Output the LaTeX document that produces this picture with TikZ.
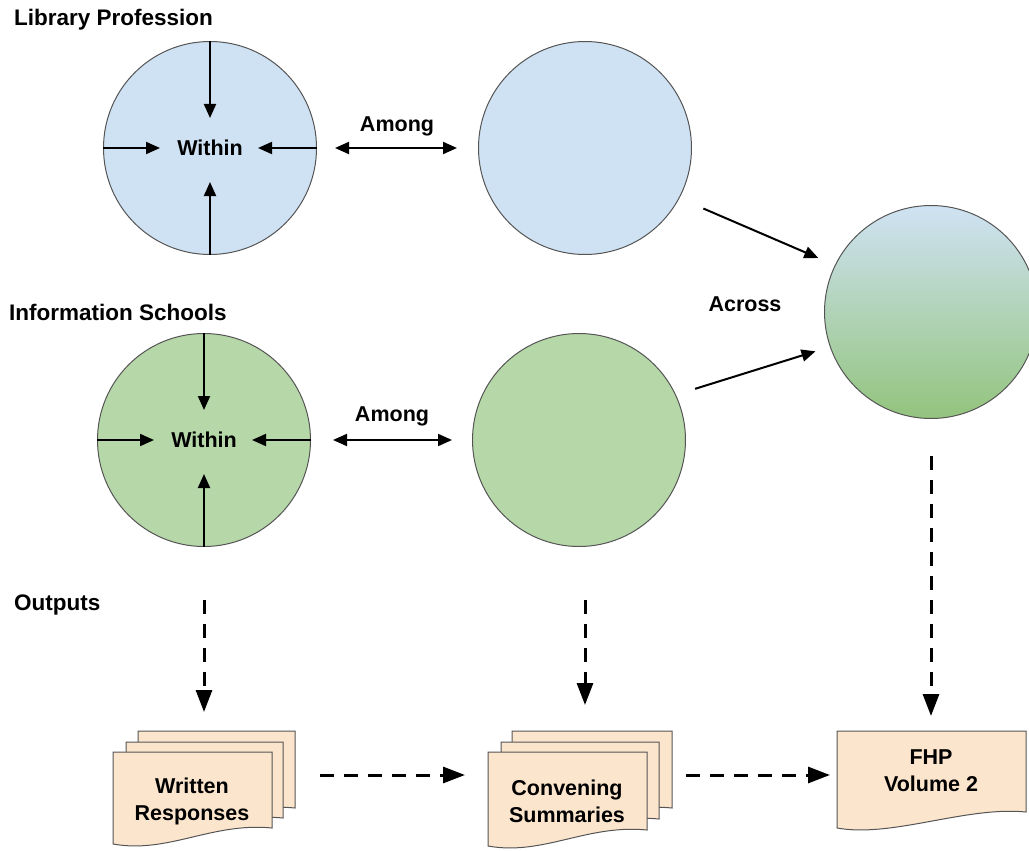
\documentclass[tikz,border=0pt]{standalone}
\usepackage{fontspec}
\setmainfont{Liberation Sans}
\usetikzlibrary{arrows.meta}

\definecolor{bluefill}{HTML}{CFE2F3}
\definecolor{greenfill}{HTML}{B6D7A8}
\definecolor{deepgreen}{HTML}{93C47D}
\definecolor{docfill}{HTML}{FCE5CD}
\definecolor{edgegray}{HTML}{555555}

\tikzset{
  ring/.style={circle, draw=edgegray, line width=1pt, minimum size=213pt, inner sep=0pt, font=\lblfont},
  lbl/.style={inner sep=0pt, font=\lblfont},
  head/.style={lbl, anchor=west, font=\headfont},
  arr/.style={line width=2pt, -{Triangle[length=14pt,width=12pt]}},
  duoarr/.style={line width=2pt, {Triangle[length=14pt,width=12pt]}-{Triangle[length=14pt,width=12pt]}},
  dasharr/.style={line width=3pt, dash pattern=on 14pt off 10pt, -{Triangle[length=22pt,width=16pt]}},
  page/.style={fill=docfill, draw=edgegray, line width=1pt},
}
\newcommand{\lblfont}{\fontsize{21.5}{27}\selectfont\bfseries}
\newcommand{\headfont}{\fontsize{22.5}{27}\selectfont\bfseries}
\newcommand{\docpage}[4]{%
  \draw[page] (#1,#2) -- (#3,#2) -- (#3,#4) .. controls +(-60,-6) and +(55,10) .. (#1,{#4+16}) -- cycle;}

\begin{document}
\begin{tikzpicture}[x=1pt,y=-1pt]
\useasboundingbox (0,0) rectangle (1029,851);

\node[head] (lphead) at (14,20) {Library Profession};
\node[head] (ishead) at (9,312) {Information Schools};
\node[head] (outhead) at (14,605) {Outputs};

\node[ring, fill=bluefill] (lpwithin) at (210,148) {Within};
\node[ring, fill=bluefill] (lpamong) at (585,148) {};
\node[ring, fill=greenfill] (iswithin) at (204,440) {Within};
\node[ring, fill=greenfill] (isamong) at (579,440) {};
\node[ring, top color=bluefill, bottom color=deepgreen] (across) at (931,312) {};

\foreach \c in {lpwithin, iswithin} {
  \draw[arr] (\c.north) -- ([yshift=30pt]\c.center);
  \draw[arr] (\c.south) -- ([yshift=-34pt]\c.center);
  \draw[arr] (\c.west) -- ([xshift=-50pt]\c.center);
  \draw[arr] (\c.east) -- ([xshift=48pt]\c.center);
}

\node[lbl] (lpamonglbl) at (397,126) {Among};
\node[lbl] (isamonglbl) at (392,416) {Among};
\node[lbl] (acrosslbl) at (745,304) {Across};

\draw[duoarr, shorten <=18pt, shorten >=21pt] (lpwithin.east) -- (lpamong.west);
\draw[duoarr, shorten <=22pt, shorten >=20pt] (iswithin.east) -- (isamong.west);
\draw[arr, shorten <=26pt, shorten >=18pt] (lpamong.-28) -- (across.154);
\draw[arr, shorten <=20pt, shorten >=15pt] (isamong.25) -- (across.199);

\docpage{138}{731}{295}{808}
\docpage{126}{742}{283}{818}
\docpage{113}{752}{272}{828}
\docpage{512}{731}{672}{808}
\docpage{501}{742}{659}{819}
\docpage{488}{752}{647}{830}
\docpage{837}{731}{1026}{812}

\node[lbl, align=center] (written) at (192,801) {Written\\Responses};
\node[lbl, align=center] (convening) at (567,801) {Convening\\Summaries};
\node[lbl, align=center] (fhp) at (931,771) {FHP\\Volume 2};

\coordinate (wrtop) at (204,731);
\coordinate (cstop) at (585,731);
\coordinate (fhptop) at (931,731);
\coordinate (wrright) at (295,775);
\coordinate (csleft) at (488,775);
\coordinate (csright) at (672,775);
\coordinate (fhpleft) at (837,775);

\draw[dasharr, shorten <=53pt, shorten >=19pt] (iswithin.south) -- (wrtop);
\draw[dasharr, shorten <=53pt, shorten >=26pt] (isamong.south -| cstop) -- (cstop);
\draw[dasharr, shorten <=37pt, shorten >=15pt] (across.south) -- (fhptop);
\draw[dasharr, shorten <=25pt, shorten >=23pt] (wrright) -- (csleft);
\draw[dasharr, shorten <=14pt, shorten >=7pt] (csright) -- (fhpleft);
\end{tikzpicture}
\end{document}
